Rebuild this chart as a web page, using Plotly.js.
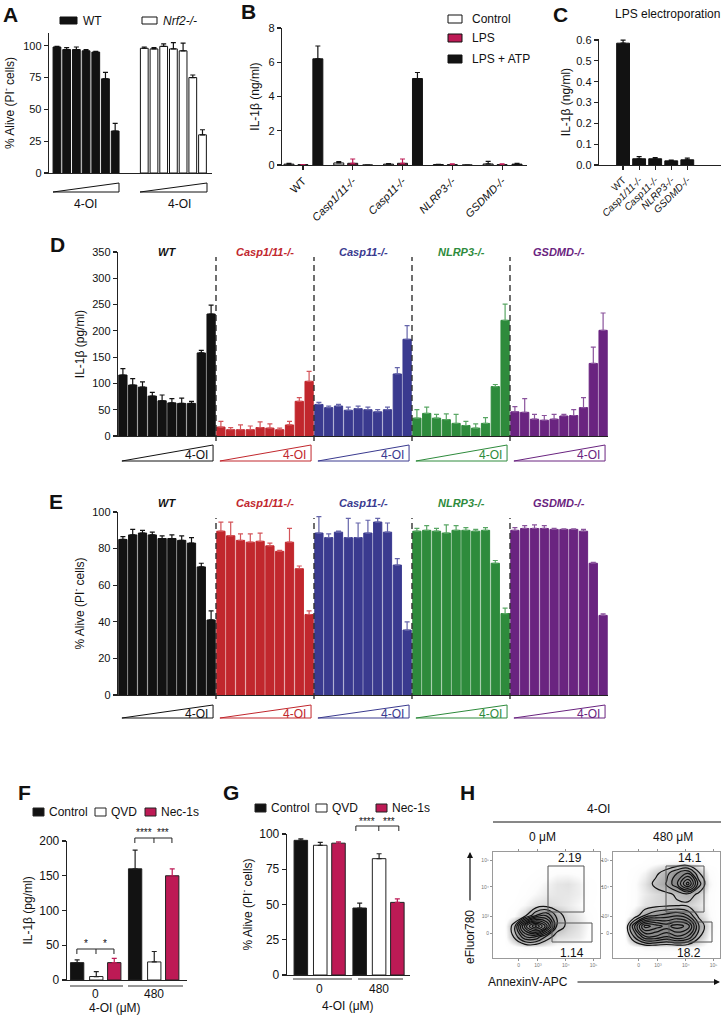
<!DOCTYPE html>
<html><head><meta charset="utf-8">
<script src="https://cdn.plot.ly/plotly-3.0.1.min.js"></script>
<style>html,body{margin:0;padding:0;background:#fff}#chart{width:721px;height:1017px}</style>
</head><body><div id="chart"></div>
<script>
// ================= DATA =================
// Panel A: % alive, increasing 4-OI
const aDoseCount = 7;
const aLegend = ['WT', 'Nrf2-/-'];
const aWT = [99, 97, 97, 96, 95, 74, 33];
const aWTerr = [0.5, 1.5, 2, 1, 0.5, 5, 6];
const aNrf2 = [98, 97.5, 99.5, 97.5, 96, 75, 30];
const aNrf2err = [1, 1, 2, 5, 6, 2, 4];
const aTicks = [0, 25, 50, 75, 100];

// Panel B: IL-1b (ng/ml)
const bGenotypes = ['WT', '<i>Casp1/11-/-</i>', '<i>Casp11-/-</i>', '<i>NLRP3-/-</i>', '<i>GSDMD-/-</i>'];
const bSeries = ['Control', 'LPS', 'LPS + ATP'];
const bControl = [0.05, 0.12, 0.05, 0.03, 0.06];
const bControlErr = [0.05, 0.08, 0.03, 0.01, 0.15];
const bLPS = [0.02, 0.1, 0.1, 0.02, 0.02];
const bLPSErr = [0.01, 0.25, 0.25, 0.05, 0.05];
const bATP = [6.2, 0, 5.05, 0, 0.05];
const bATPErr = [0.75, 0, 0.35, 0, 0.05];
const bTicks = [0, 2, 4, 6, 8];

// Panel C: LPS electroporation
const cTitle = 'LPS electroporation';
const cGenotypes = ['WT', '<i>Casp1/11-/-</i>', '<i>Casp11-/-</i>', '<i>NLRP3-/-</i>', '<i>GSDMD-/-</i>'];
const cValues = [0.585, 0.03, 0.03, 0.02, 0.025];
const cErr = [0.015, 0.01, 0.006, 0.004, 0.008];
const cTicks = [0, 0.1, 0.2, 0.3, 0.4, 0.5, 0.6];

// Panels D/E genotypes
const deGenotypes = ['WT', 'Casp1/11-/-', 'Casp11-/-', 'NLRP3-/-', 'GSDMD-/-'];
const deDoseLabel = '4-OI';
// Panel D: IL-1b (pg/ml)
const dWT = [116, 97, 93, 76, 67, 63, 62, 62, 158, 232];
const dWTerr = [12, 12, 10, 7, 11, 8, 10, 4, 5, 17];
const dCasp111 = [17, 12, 12, 12, 16, 15, 12, 21, 66, 104];
const dCasp111err = [11, 4, 9, 7, 11, 8, 3, 7, 7, 19];
const dCasp11 = [60, 54, 57, 49, 52, 50, 46, 50, 118, 184];
const dCasp11err = [4, 3, 3, 6, 5, 5, 4, 5, 12, 26];
const dNLRP3 = [34, 43, 34, 31, 24, 20, 15, 24, 94, 220];
const dNLRP3err = [16, 12, 7, 11, 17, 8, 8, 11, 4, 31];
const dGSDMD = [46, 45, 32, 30, 32, 38, 39, 54, 138, 201];
const dGSDMDerr = [10, 26, 9, 9, 9, 3, 11, 19, 31, 33];
const dTicks = [0, 50, 100, 150, 200, 250, 300, 350];
// Panel E: % alive
const eWT = [85, 87.5, 88.5, 87.5, 85.5, 85.5, 84.5, 83, 70, 41];
const eWTerr = [1.5, 3, 1.5, 1.5, 1.5, 2, 2.5, 3, 2, 5];
const eCasp111 = [89.5, 87, 84.5, 83.5, 84, 81.5, 78.5, 83.5, 69, 44];
const eCasp111err = [5, 7.5, 3.5, 4.5, 4.5, 1.5, 0.5, 7.5, 1.5, 2];
const eCasp11 = [88.5, 86, 89, 86, 86, 88.5, 94.5, 89, 71, 35.5];
const eCasp11err = [9, 2, 0.5, 10.5, 8, 7, 2, 5, 3.5, 4.5];
const eNLRP3 = [89.5, 90, 89.5, 88.5, 90, 90, 89.5, 90, 72, 44.5];
const eNLRP3err = [1.5, 2.5, 1.5, 4.5, 2.5, 1.5, 1, 1.5, 1.5, 3];
const eGSDMD = [90, 91, 91, 91, 90.5, 90.5, 90.5, 89.5, 72, 43.5];
const eGSDMDerr = [1.5, 1.5, 2, 1.5, 0.5, 0.3, 0.3, 1, 0.5, 0.8];
const eTicks = [0, 20, 40, 60, 80, 100];

// Panels F/G
const fgDoses = ['0', '480'];
const fgDoseTitle = '4-OI (μM)';
const fgSeries = ['Control', 'QVD', 'Nec-1s'];
const fControl = [25, 160], fControlErr = [4, 27];
const fQVD = [5, 26], fQVDErr = [7, 15];
const fNec = [25, 150], fNecErr = [6, 10];
const fTicks = [0, 50, 100, 150, 200];
const fStars0 = ['*', '*'];
const fStars480 = ['****', '***'];
const gControl = [95.5, 47.5], gControlErr = [1, 3.5];
const gQVD = [92, 82.5], gQVDErr = [2, 3.5];
const gNec = [93.5, 51.5], gNecErr = [1, 2.5];
const gTicks = [0, 25, 50, 75, 100];
const gStars480 = ['****', '***'];

// Panel H: flow cytometry density grid (hand-read, coarse)
const hGridX = [0, 10, 20, 30, 40, 50, 60, 70, 80, 90, 100];
const hGridY = [0, 10, 20, 30, 40, 50, 60, 70, 80, 90, 100];
const hDensity0 = [
  [0,0,0,0,0,0,0,0,0,0,0],
  [0,0,0.2,0.5,0.5,0.4,0.3,0.3,0.2,0,0],
  [0,0,2,5,5,2.5,1.2,1,0.8,0.3,0],
  [0,0,2.5,9,13,9,2.5,1.5,1,0.4,0],
  [0,0,0.4,1.5,4,5,2.5,1.2,0.8,0.3,0],
  [0,0,0.1,0.5,1,1.2,1,0.8,0.5,0.1,0],
  [0,0,0,0.2,0.5,0.8,0.9,0.9,0.7,0.2,0],
  [0,0,0,0.1,0.3,0.6,0.9,1,0.7,0.2,0],
  [0,0,0,0,0.1,0.2,0.4,0.4,0.3,0,0],
  [0,0,0,0,0,0,0,0,0,0,0],
  [0,0,0,0,0,0,0,0,0,0,0]
];
const hDensity480 = [
  [0,0,0,0,0,0,0,0,0,0,0],
  [0,0,0.3,0.6,0.6,0.6,0.6,0.6,0.5,0.2,0],
  [0,0,3,6,6,5,6,5,2,0.5,0],
  [0,0,5,10,9,8,9,8,3,0.8,0],
  [0,0,1,3,4,4.5,5,4,1.5,0.5,0],
  [0,0,0.3,1,1.3,1.5,1.6,1.5,1,0.4,0],
  [0,0,0.3,0.8,1.2,1.5,2,2.5,1.5,0.4,0],
  [0,0,0.3,1,2.2,3,5,9,3.5,0.6,0],
  [0,0,0.2,0.6,1.5,2.5,4,5,2,0.4,0],
  [0,0,0,0.1,0.3,0.5,0.6,0.6,0.3,0,0],
  [0,0,0,0,0,0,0,0,0,0,0]
];
const hConditions = ['0 μM', '480 μM'];
const hGate0 = ['2.19', '1.14'];
const hGate480 = ['14.1', '18.2'];
const hTickValsX = [24, 42, 68, 94];
const hTickValsY = [23, 39, 67, 92];
const hTickText = ['0', '10³', '10⁴', '10⁵'];
const hAxisTitles = ['eFluor780', 'AnnexinV-APC'];

// ================= HELPERS =================
const W = 721, H = 1017;
const FONT = '"Liberation Sans", Arial, Helvetica, sans-serif';
const PX = x => x / W, PY = y => 1 - y / H;
const px = (a, b) => [a / W, b / W];
const py = (t, b) => [1 - b / H, 1 - t / H];
const BLACK = '#121212', MAG = '#bd1a55';
const deColors = ['#121212', '#c1272d', '#3a3a8f', '#2e8b3c', '#6a2480'];
const deErrColors = ['#121212', '#d4555a', '#6565aa', '#5aa765', '#8a539c'];

const data = [], shapes = [], annotations = [];

function bar(x, y, err, xa, ya, fill, line, width, offset, errColor) {
  const t = {
    type: 'bar', x, y, xaxis: xa, yaxis: ya, width,
    marker: {color: fill, line: {color: line, width: 1}},
    error_y: {type: 'data', array: err, arrayminus: err.map(() => 0), symmetric: false,
              color: errColor || line, thickness: 1.2, width: 2.5},
    showlegend: false, hoverinfo: 'skip', cliponaxis: false
  };
  if (offset !== undefined) t.offset = offset;
  return t;
}
function T(text, x, y, size, color, xanchor, extra) {
  annotations.push(Object.assign({
    text, x: PX(x), y: PY(y), xref: 'paper', yref: 'paper', showarrow: false,
    xanchor: xanchor || 'center', yanchor: 'middle',
    font: {family: FONT, size: size || 12, color: color || '#111'}
  }, extra || {}));
}
function rect(x0, y0, x1, y1, fill, line) {
  shapes.push({type: 'rect', xref: 'paper', yref: 'paper', x0: PX(x0), x1: PX(x1), y0: PY(y0), y1: PY(y1),
    fillcolor: fill, line: {color: line || '#111', width: 1}});
}
function hline(x0, x1, y, color, width) {
  shapes.push({type: 'line', xref: 'paper', yref: 'paper', x0: PX(x0), x1: PX(x1), y0: PY(y), y1: PY(y),
    line: {color: color || '#111', width: width || 1}});
}
function wedge(x0, x1, yTop, yBot, color) {
  shapes.push({type: 'path', xref: 'paper', yref: 'paper',
    path: `M ${PX(x0)} ${PY(yBot)} L ${PX(x1)} ${PY(yTop)} L ${PX(x1)} ${PY(yBot)} Z`,
    fillcolor: 'rgba(0,0,0,0)', line: {color, width: 1}});
}

const axBase = {
  showline: true, linecolor: '#222', linewidth: 1.3, ticks: 'outside', ticklen: 4, tickwidth: 1.2,
  tickcolor: '#222', showgrid: false, zeroline: false, fixedrange: true, automargin: false,
  tickfont: {family: FONT, size: 11, color: '#111'}
};
const ytitle = (text, standoff) => ({text, font: {family: FONT, size: 12, color: '#111'}, standoff});

// ================= PANEL A =================
data.push(bar(aWT.map((_, i) => i), aWT, aWTerr, 'x', 'y', BLACK, BLACK, 0.8));
data.push(bar(aNrf2.map((_, i) => i + aDoseCount + 2), aNrf2, aNrf2err, 'x', 'y', '#fff', BLACK, 0.8));
rect(60, 17, 77, 24, BLACK); T(aLegend[0], 81, 21, 12, '#111', 'left');
rect(142, 17, 157, 24, '#fff'); T('<i>' + aLegend[1] + '</i>', 161, 21, 12, '#111', 'left');
wedge(53, 119, 183, 192, '#111'); T(deDoseLabel, 85, 204, 12);
wedge(140, 207, 183, 192, '#111'); T(deDoseLabel, 179, 204, 12);

// ================= PANEL B =================
data.push(bar(bGenotypes, bControl, bControlErr, 'x2', 'y2', '#fff', BLACK, 0.2, -0.38));
data.push(bar(bGenotypes, bLPS, bLPSErr, 'x2', 'y2', MAG, BLACK, 0.2, -0.1, MAG));
data.push(bar(bGenotypes, bATP, bATPErr, 'x2', 'y2', BLACK, BLACK, 0.2, 0.2));
[['#fff', 19], [MAG, 38], [BLACK, 59]].forEach((s, i) => {
  rect(448, s[1] - 4, 462, s[1] + 4, s[0]);
  T(bSeries[i], 470, s[1], 12, '#111', 'left');
});

// ================= PANEL C =================
data.push(bar(cGenotypes, cValues, cErr, 'x3', 'y3', BLACK, BLACK, 0.8));
T(cTitle, 667, 14, 12);

// ================= PANELS D / E =================
const dSets = [[dWT, dWTerr], [dCasp111, dCasp111err], [dCasp11, dCasp11err], [dNLRP3, dNLRP3err], [dGSDMD, dGSDMDerr]];
const eSets = [[eWT, eWTerr], [eCasp111, eCasp111err], [eCasp11, eCasp11err], [eNLRP3, eNLRP3err], [eGSDMD, eGSDMDerr]];
const nPer = dWT.length;
dSets.forEach((s, g) => data.push(bar(s[0].map((_, i) => g * nPer + i), s[0], s[1], 'x4', 'y4', deColors[g], deColors[g], 0.84, undefined, deErrColors[g])));
eSets.forEach((s, g) => data.push(bar(s[0].map((_, i) => g * nPer + i), s[0], s[1], 'x5', 'y5', deColors[g], deColors[g], 0.84, undefined, deErrColors[g])));

function deDecor(xa, labelY, dashTop, dashBot, wTop, wBot) {
  deGenotypes.forEach((name, g) => {
    annotations.push({text: '<b><i>' + name + '</i></b>', xref: xa, yref: 'paper', x: g * nPer + (nPer - 1) / 2,
      y: PY(labelY), yanchor: 'middle', showarrow: false, font: {family: FONT, size: 11, color: deColors[g]}});
    if (g > 0) shapes.push({type: 'line', xref: xa, yref: 'paper', x0: g * nPer - 0.5, x1: g * nPer - 0.5,
      y0: PY(dashBot), y1: PY(dashTop), line: {color: '#222', width: 1.3, dash: '6px,4px'}});
    shapes.push({type: 'path', xref: xa, yref: 'paper',
      path: `M ${g * nPer - 0.1} ${PY(wBot)} L ${g * nPer + nPer - 0.8} ${PY(wTop)} L ${g * nPer + nPer - 0.8} ${PY(wBot)} Z`,
      fillcolor: 'rgba(0,0,0,0)', line: {color: deColors[g], width: 1}});
    annotations.push({text: deDoseLabel, xref: xa, yref: 'paper', x: g * nPer + nPer - 1.1, xanchor: 'right',
      y: PY((wTop + wBot) / 2 + 2), yanchor: 'middle', showarrow: false, font: {family: FONT, size: 12, color: deColors[g]}});
  });
}
deDecor('x4', 252, 257, 441, 445, 461);
deDecor('x5', 503, 518, 699, 705, 718);

// ================= PANELS F / G =================
function fgBars(vals, xa, ya) {
  const fills = [BLACK, '#fff', MAG];
  const offs = [-0.44, -0.11, 0.2];
  vals.forEach((v, i) => data.push(bar(fgDoses, v[0], v[1], xa, ya, fills[i], '#222', 0.23, offs[i], i === 2 ? MAG : '#222')));
}
fgBars([[fControl, fControlErr], [fQVD, fQVDErr], [fNec, fNecErr]], 'x6', 'y6');
fgBars([[gControl, gControlErr], [gQVD, gQVDErr], [gNec, gNecErr]], 'x7', 'y7');

function legendFG(y, xs) {
  const fills = [BLACK, '#fff', MAG];
  fgSeries.forEach((s, i) => {
    rect(xs[i], y - 4, xs[i] + 11, y + 4, fills[i], '#222');
    T(s, xs[i] + 14, y, 12, '#111', 'left');
  });
}
legendFG(812, [33, 95, 145]);
legendFG(808, [255, 316, 376]);

function bracket(xa, xL, xM, xR, y, stars, starY) {
  const mk = (x0, x1, y0, y1) => shapes.push({type: 'line', xref: xa, yref: 'paper', x0, x1, y0: PY(y0), y1: PY(y1), line: {color: '#222', width: 1}});
  mk(xL, xR, y, y); mk(xL, xL, y, y + 5); mk(xR, xR, y, y + 5); mk(xM, xM, y, y + 5);
  [0, 1].forEach(k => annotations.push({text: stars[k], xref: xa, yref: 'paper', x: k ? (xM + xR) / 2 : (xL + xM) / 2,
    y: PY(starY), yanchor: 'middle', showarrow: false, font: {family: FONT, size: 10, color: '#111'}}));
}
bracket('x6', -0.33, 0, 0.31, 949, fStars0, 943);
bracket('x6', 0.67, 1, 1.31, 838, fStars480, 832);
bracket('x7', 0.61, 1, 1.34, 826, gStars480, 821);
hline(70, 123, 986, '#333', 1.2); hline(128, 183, 986, '#333', 1.2);
hline(293, 352, 979, '#333', 1.2); hline(358, 403, 979, '#333', 1.2);
// dose category labels under F / G
fgDoses.forEach((d, i) => {
  annotations.push({text: d, xref: 'x6', yref: 'paper', x: i, y: PY(994), yanchor: 'middle', showarrow: false,
    font: {family: FONT, size: 12, color: '#111'}});
  annotations.push({text: d, xref: 'x7', yref: 'paper', x: i, y: PY(989), yanchor: 'middle', showarrow: false,
    font: {family: FONT, size: 12, color: '#111'}});
});
T(fgDoseTitle, 115, 1008, 12);
T(fgDoseTitle, 348, 1006, 12);

// ================= PANEL H =================
function flow(z, xa, ya) {
  data.push({type: 'heatmap', x: hGridX, y: hGridY, z, xaxis: xa, yaxis: ya, zsmooth: 'best', zmin: 0, zmax: 4,
    colorscale: [[0, '#ffffff'], [0.1, '#fcfcfc'], [0.25, '#e2e2e2'], [0.5, '#bdbdbd'], [1, '#8a8a8a']], showscale: false, hoverinfo: 'skip'});
  data.push({type: 'contour', x: hGridX, y: hGridY, z, xaxis: xa, yaxis: ya, showscale: false, hoverinfo: 'skip',
    contours: {coloring: 'none', start: 1.8, end: 14, size: 1.1},
    line: {color: '#111', width: 1.2, smoothing: 1.3}});
}
flow(hDensity0, 'x8', 'y8');
flow(hDensity480, 'x9', 'y9');
rect(548, 866, 584, 912, 'rgba(0,0,0,0)', '#555');
rect(552, 923, 592, 942, 'rgba(0,0,0,0)', '#555');
rect(666, 866, 704, 912, 'rgba(0,0,0,0)', '#555');
rect(669, 922, 712, 942, 'rgba(0,0,0,0)', '#555');
T(hGate0[0], 570, 858, 12); T(hGate0[1], 572, 953, 12);
T(hGate480[0], 690, 858, 12); T(hGate480[1], 689, 953, 12);
T(deDoseLabel, 598, 809, 12);
hline(493, 721, 822, '#111', 1);
T(hConditions[0], 542, 837, 12); T(hConditions[1], 673, 837, 12);
T(hAxisTitles[0], 470, 937, 12, '#111', 'center', {textangle: -90});
T(hAxisTitles[1], 528, 982, 12);
annotations.push({text: '', x: PX(470), y: PY(852), xref: 'paper', yref: 'paper', showarrow: true,
  ax: 0, ay: 50, arrowhead: 2, arrowsize: 1, arrowwidth: 1.2, arrowcolor: '#111'});
annotations.push({text: '', x: PX(720), y: PY(982), xref: 'paper', yref: 'paper', showarrow: true,
  ax: -144, ay: 0, arrowhead: 2, arrowsize: 1, arrowwidth: 1.2, arrowcolor: '#111'});

// ================= PANEL LETTERS =================
[['A', 10, 14], ['B', 248, 12], ['C', 560, 14], ['D', 57, 244], ['E', 56, 502], ['F', 24, 792], ['G', 231, 792], ['H', 467, 792]]
  .forEach(l => T('<b>' + l[0] + '</b>', l[1], l[2], 21, '#111'));

// ================= LAYOUT =================
const hAx = (dom, tv) => Object.assign({}, axBase, {domain: dom, range: [0, 100], mirror: 'all', linecolor: '#9a9a9a',
  linewidth: 1, ticklen: 2, tickwidth: 0.8, tickcolor: '#777', tickvals: tv, ticktext: hTickText,
  tickfont: {family: FONT, size: 5, color: '#777'}});

const layout = {
  width: W, height: H, margin: {l: 0, r: 0, t: 0, b: 0}, paper_bgcolor: '#fff', plot_bgcolor: 'rgba(0,0,0,0)',
  barmode: 'overlay', showlegend: false, font: {family: FONT, color: '#111'},
  xaxis: Object.assign({}, axBase, {domain: px(49, 212), range: [-0.82, 15.98], anchor: 'y', showticklabels: false, ticks: ''}),
  yaxis: Object.assign({}, axBase, {domain: py(33, 173), range: [0, 110], anchor: 'x', tickvals: aTicks,
    title: ytitle('% Alive (PI<sup>-</sup> cells)', 6)}),
  xaxis2: Object.assign({}, axBase, {domain: px(282, 527), range: [-0.42, 4.5], anchor: 'y2', type: 'category', tickangle: -45}),
  yaxis2: Object.assign({}, axBase, {domain: py(28, 165), range: [0, 8], anchor: 'x2', tickvals: bTicks,
    title: ytitle('IL-1β (ng/ml)', 6)}),
  xaxis3: Object.assign({}, axBase, {domain: px(599, 721), range: [-1.5, 6.1], anchor: 'y3', type: 'category', tickangle: -45,
    tickfont: {family: FONT, size: 10, color: '#111'}}),
  yaxis3: Object.assign({}, axBase, {domain: py(39, 165), range: [0, 0.605], anchor: 'x3', tickvals: cTicks, tickformat: '.1f',
    title: ytitle('IL-1β (ng/ml)', 3)}),
  xaxis4: Object.assign({}, axBase, {domain: px(118, 608), range: [-0.5, 49.5], anchor: 'y4', showticklabels: false, ticks: ''}),
  yaxis4: Object.assign({}, axBase, {domain: py(252, 436), range: [0, 350], anchor: 'x4', tickvals: dTicks,
    title: ytitle('IL-1β (pg/ml)', 5)}),
  xaxis5: Object.assign({}, axBase, {domain: px(118, 608), range: [-0.5, 49.5], anchor: 'y5', showticklabels: false, ticks: ''}),
  yaxis5: Object.assign({}, axBase, {domain: py(512, 695), range: [0, 100], anchor: 'x5', tickvals: eTicks,
    title: ytitle('% Alive (PI<sup>-</sup> cells)', 5)}),
  xaxis6: Object.assign({}, axBase, {domain: px(67, 187), range: [-0.5, 1.57], anchor: 'y6', type: 'category', ticks: '',
    showticklabels: false}),
  yaxis6: Object.assign({}, axBase, {domain: py(841, 980), range: [0, 200], anchor: 'x6', tickvals: fTicks,
    tickfont: {family: FONT, size: 12, color: '#111'}, title: ytitle('IL-1β (pg/ml)', 4)}),
  xaxis7: Object.assign({}, axBase, {domain: px(287, 410), range: [-0.56, 1.53], anchor: 'y7', type: 'category', ticks: '',
    showticklabels: false}),
  yaxis7: Object.assign({}, axBase, {domain: py(834, 975), range: [0, 100], anchor: 'x7', tickvals: gTicks,
    tickfont: {family: FONT, size: 12, color: '#111'}, title: ytitle('% Alive (PI<sup>-</sup> cells)', 4)}),
  xaxis8: Object.assign(hAx(px(493, 600), hTickValsX), {anchor: 'y8'}),
  yaxis8: Object.assign(hAx(py(852, 958), hTickValsY), {anchor: 'x8'}),
  xaxis9: Object.assign(hAx(px(613, 720), hTickValsX), {anchor: 'y9'}),
  yaxis9: Object.assign(hAx(py(852, 958), hTickValsY), {anchor: 'x9'}),
  shapes, annotations
};

Plotly.newPlot('chart', data, layout, {displayModeBar: false, staticPlot: true});
</script>
</body></html>
